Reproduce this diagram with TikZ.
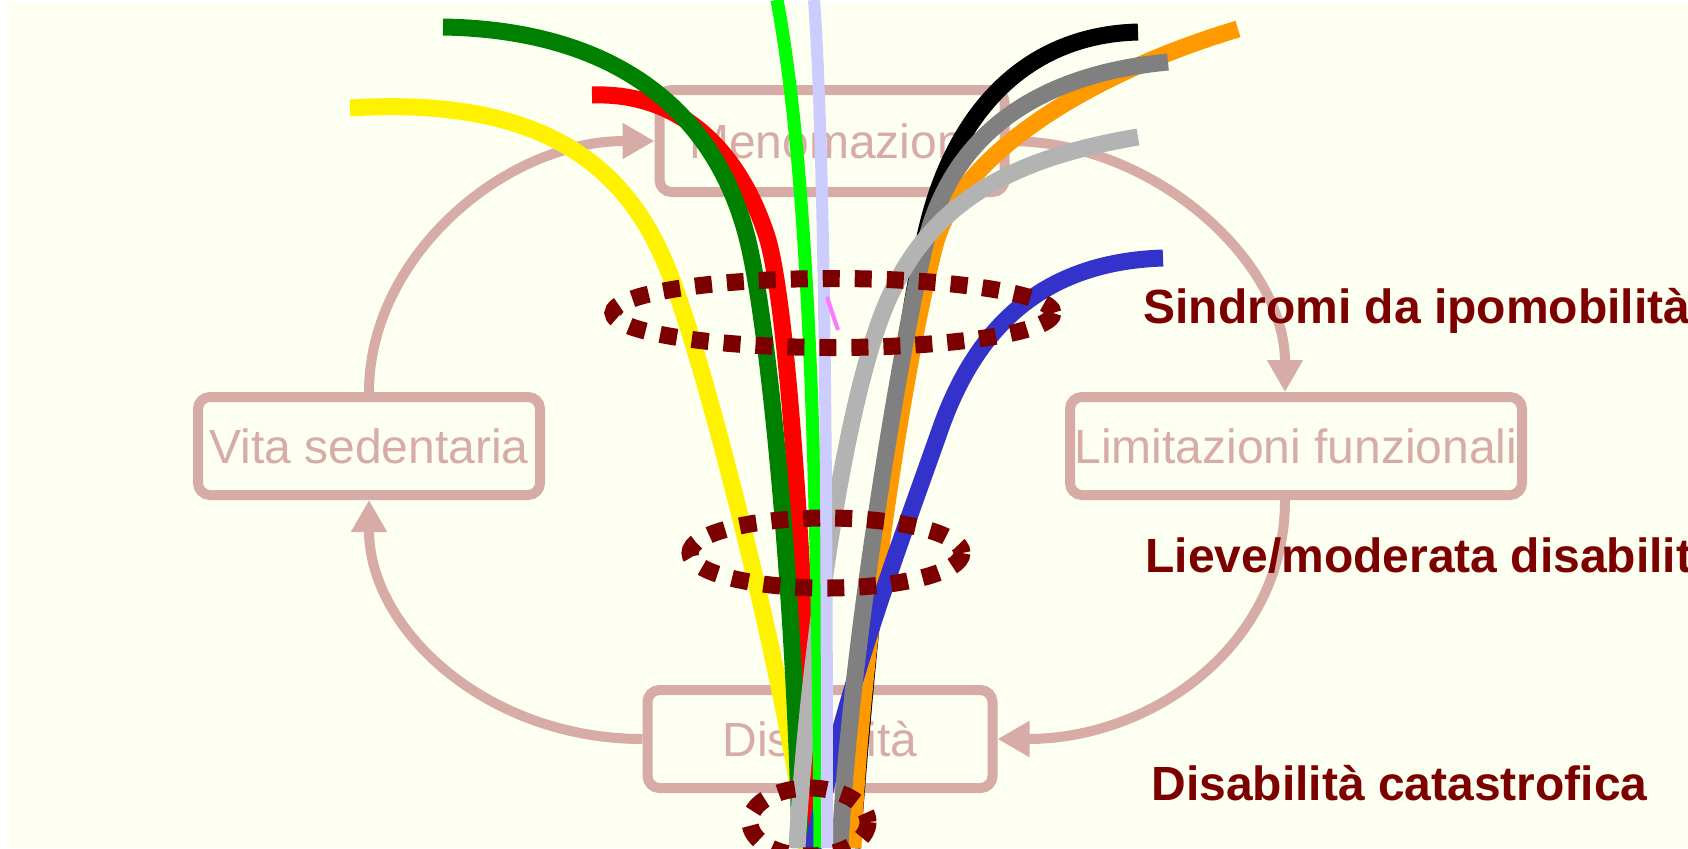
\documentclass[tikz,border=0pt]{standalone}
\usepackage{fontspec}
\setmainfont{Liberation Sans}
\usetikzlibrary{arrows.meta,positioning}
\definecolor{cream}{RGB}{253,255,240}
\definecolor{fade}{RGB}{216,172,166}
\definecolor{dkred}{RGB}{125,0,0}
\definecolor{dkgreen}{RGB}{0,128,0}
\definecolor{ltgreen}{RGB}{0,255,0}
\definecolor{lavender}{RGB}{204,204,255}
\definecolor{pinky}{RGB}{255,120,255}
\definecolor{orangey}{RGB}{255,153,0}
\definecolor{midgray}{RGB}{128,128,128}
\definecolor{ltgray}{RGB}{179,179,179}
\definecolor{bluey}{RGB}{51,51,204}

\begin{document}
\begin{tikzpicture}[x=0.5pt,y=-0.5pt,
    fadebox/.style={draw=fade,line width=5pt,rounded corners=6pt,inner sep=0pt,
      minimum height=49pt,text=fade,font=\fontsize{24}{28}\selectfont},
    cyc/.style={draw=fade,line width=5pt,-{Triangle[length=16pt,width=17pt]}},
    strand/.style={line width=8.5pt},
    ring/.style={draw=dkred,line width=8.5pt,dash pattern=on 8.5pt off 7.5pt},
    level/.style={text=dkred,inner sep=0pt,anchor=base west,
      font=\bfseries\fontsize{24}{28}\selectfont}]
  \useasboundingbox (0,0) rectangle (1688,848);
  \fill[cream] (8,3) rectangle (1688,848);

  % faded cycle
  \node[fadebox,minimum width=172.5pt,minimum height=51pt] (meno) at (832,141) {Menomazioni};
  \node[fadebox,minimum width=171pt] (vita) at (369,446) {Vita sedentaria};
  \node[fadebox,minimum width=226pt] (lim) at (1296,446) {Limitazioni funzionali};
  \node[fadebox,minimum width=172.5pt] (dis) at (820,739) {Disabilità};

  \draw[cyc] (vita.north) .. controls +(0,-135) and +(-150,0) .. (meno.west);
  \draw[cyc] (meno.east) .. controls +(145,0) and +(0,-130) .. ([xshift=-5.5pt]lim.north);
  \draw[cyc] ([xshift=-5.5pt]lim.south) .. controls +(0,145) and +(155,0) .. (dis.east);
  \draw[cyc] (dis.west) .. controls +(-155,0) and +(0,130) .. (vita.south);

  % strands
  \draw[strand,yellow] (350,108) .. controls (560,95) and (635,180) .. (672,280)
    .. controls (710,380) and (790,700) .. (807,848);
  \draw[strand,red] (592,95) .. controls (680,92) and (740,150) .. (768,240)
    .. controls (790,320) and (805,600) .. (815,848);
  \draw[strand,dkgreen] (443,27) .. controls (625,30) and (722,120) .. (750,250)
    .. controls (770,341) and (795,600) .. (800,848);
  \draw[strand,black] (1138,32) .. controls (1020,35) and (950,120) .. (925,237)
    .. controls (900,350) and (870,600) .. (852,848);
  \draw[strand,orangey] (1238,29) .. controls (1100,70) and (960,150) .. (935,245)
    .. controls (905,360) and (860,650) .. (853,848);
  \draw[strand,bluey] (1163,258) .. controls (1040,262) and (975,330) .. (940,430)
    .. controls (905,530) and (840,700) .. (813,848);
  \draw[strand,midgray] (1168,62) .. controls (1030,75) and (950,140) .. (925,245)
    .. controls (900,350) and (850,650) .. (840,848);
  \draw[strand,ltgray] (1138,137) .. controls (1000,160) and (920,210) .. (880,320)
    .. controls (836,441) and (805,700) .. (797,848);
  \draw[line width=6.5pt,ltgreen] (777,0) .. controls (805,150) and (817,400) .. (820,848);
  \draw[line width=6pt,lavender] (814,0) .. controls (825,150) and (827,500) .. (827,848);
  \draw[line width=2pt,pinky] (827,297) -- (838,330);

  % levels
  \draw[ring] (833,313) ellipse [x radius=220,y radius=34.5];
  \draw[ring] (826,553) ellipse [x radius=136,y radius=35];
  \draw[ring] (809,822) ellipse [x radius=59,y radius=34];

  \node[level] (sindromi) at (1143,323) {Sindromi da ipomobilità};
  \node[level] (lieve) at (1145,572) {Lieve/moderata disabilità};
  \node[level] (catast) at (1151,800) {Disabilità catastrofica};
\end{tikzpicture}
\end{document}
